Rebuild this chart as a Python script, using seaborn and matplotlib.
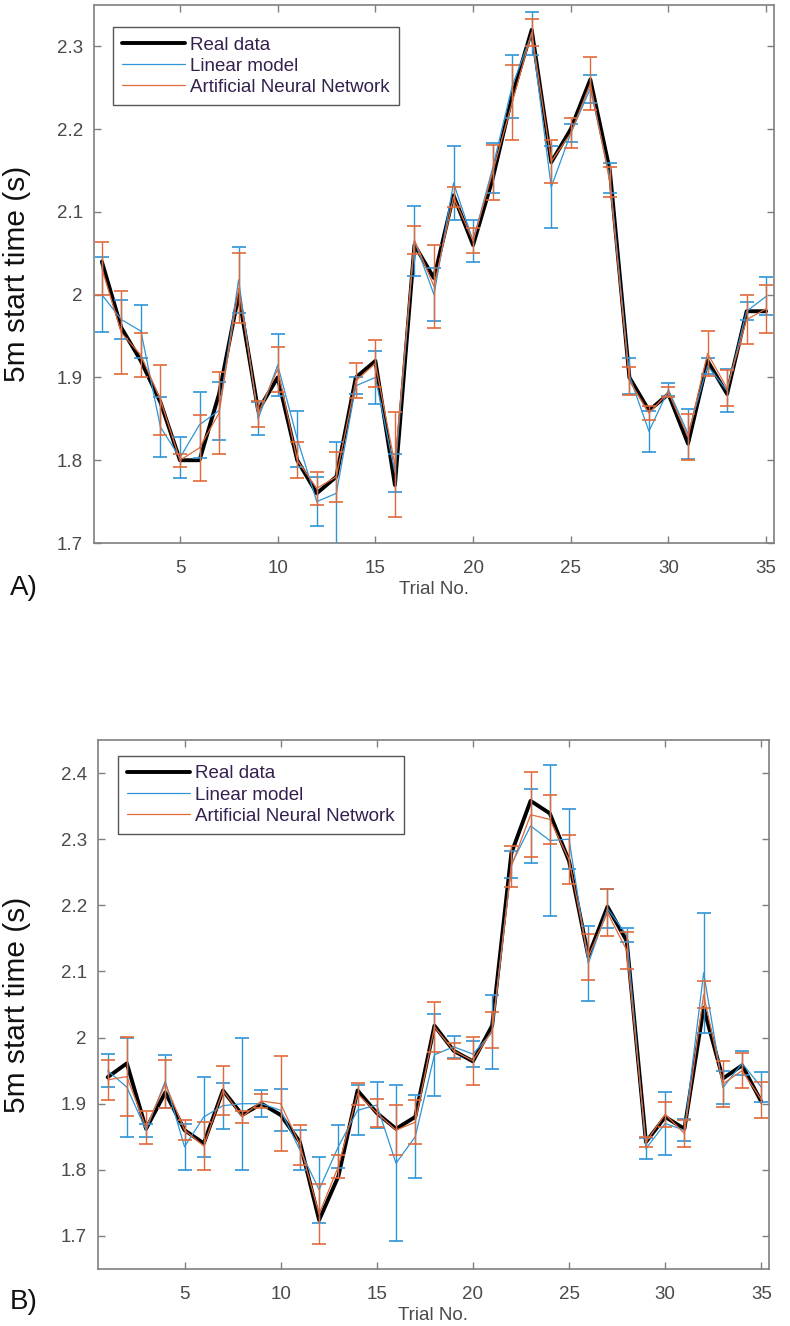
import numpy as np
import pandas as pd
import matplotlib
matplotlib.use("Agg")
import matplotlib.pyplot as plt
import seaborn as sns
from matplotlib.ticker import FuncFormatter

sns.set_theme(style="white")
plt.rcParams['font.family'] = ['Liberation Sans', 'DejaVu Sans']

trials = list(range(1, 36))

# ---- Panel A ----
a_real = [2.04, 1.96, 1.92, 1.87, 1.80, 1.80, 1.88, 2.00, 1.86, 1.90, 1.80, 1.76,
          1.78, 1.90, 1.92, 1.77, 2.06, 2.02, 2.12, 2.06, 2.14, 2.24, 2.32, 2.16,
          2.20, 2.26, 2.15, 1.90, 1.86, 1.88, 1.82, 1.92, 1.88, 1.98, 1.98]
a_lin = [2.00, 1.97, 1.956, 1.84, 1.803, 1.843, 1.86, 2.018, 1.85, 1.915, 1.826, 1.75,
         1.76, 1.89, 1.90, 1.785, 2.065, 2.00, 2.135, 2.065, 2.153, 2.252, 2.315, 2.13,
         2.195, 2.249, 2.141, 1.902, 1.835, 1.885, 1.832, 1.914, 1.884, 1.98, 1.998]
a_lin_err = [0.045, 0.024, 0.032, 0.036, 0.025, 0.04, 0.035, 0.04, 0.02, 0.037, 0.034, 0.03,
             0.062, 0.01, 0.032, 0.023, 0.042, 0.032, 0.045, 0.025, 0.03, 0.038, 0.026, 0.05,
             0.011, 0.017, 0.018, 0.022, 0.025, 0.008, 0.03, 0.01, 0.026, 0.011, 0.023]
a_ann = [2.032, 1.954, 1.927, 1.873, 1.80, 1.815, 1.857, 2.008, 1.856, 1.91, 1.80, 1.766,
         1.78, 1.896, 1.917, 1.795, 2.066, 2.01, 2.118, 2.065, 2.148, 2.232, 2.317, 2.161,
         2.195, 2.255, 2.136, 1.896, 1.857, 1.882, 1.828, 1.929, 1.887, 1.97, 1.983]
a_ann_err = [0.032, 0.05, 0.027, 0.042, 0.008, 0.04, 0.049, 0.042, 0.016, 0.027, 0.022, 0.02,
             0.03, 0.021, 0.028, 0.063, 0.017, 0.05, 0.012, 0.015, 0.033, 0.045, 0.016, 0.026,
             0.018, 0.032, 0.018, 0.017, 0.008, 0.006, 0.028, 0.027, 0.022, 0.03, 0.029]

# ---- Panel B ----
b_real = [1.94, 1.961, 1.862, 1.917, 1.86, 1.84, 1.92, 1.883, 1.90, 1.883, 1.842, 1.724,
          1.79, 1.92, 1.886, 1.862, 1.88, 2.018, 1.98, 1.964, 2.018, 2.279, 2.358, 2.339,
          2.267, 2.123, 2.198, 2.146, 1.842, 1.88, 1.862, 2.045, 1.938, 1.958, 1.903]
b_lin = [1.95, 1.925, 1.86, 1.934, 1.835, 1.88, 1.897, 1.90, 1.90, 1.89, 1.83, 1.77,
         1.835, 1.89, 1.898, 1.81, 1.85, 1.974, 1.986, 1.975, 2.008, 2.262, 2.32, 2.298,
         2.30, 2.112, 2.195, 2.155, 1.832, 1.87, 1.86, 2.098, 1.924, 1.961, 1.925]
b_lin_err = [0.025, 0.075, 0.01, 0.04, 0.035, 0.06, 0.035, 0.1, 0.02, 0.032, 0.03, 0.05,
             0.033, 0.038, 0.035, 0.118, 0.063, 0.062, 0.017, 0.02, 0.056, 0.02, 0.056, 0.114,
             0.045, 0.056, 0.029, 0.01, 0.016, 0.047, 0.017, 0.091, 0.025, 0.018, 0.023]
b_ann = [1.936, 1.941, 1.864, 1.93, 1.86, 1.836, 1.92, 1.88, 1.904, 1.90, 1.838, 1.733,
         1.805, 1.915, 1.886, 1.86, 1.872, 2.016, 1.98, 1.965, 2.011, 2.259, 2.337, 2.33,
         2.269, 2.122, 2.189, 2.132, 1.842, 1.884, 1.855, 2.065, 1.93, 1.95, 1.906]
b_ann_err = [0.03, 0.06, 0.025, 0.036, 0.015, 0.037, 0.037, 0.009, 0.01, 0.072, 0.03, 0.045,
             0.018, 0.017, 0.021, 0.038, 0.033, 0.038, 0.012, 0.036, 0.027, 0.031, 0.064, 0.037,
             0.037, 0.035, 0.036, 0.028, 0.008, 0.019, 0.02, 0.02, 0.035, 0.027, 0.027]

series_labels = ["Real data", "Linear model", "Artificial Neural Network"]
a_yticks = [1.7, 1.8, 1.9, 2.0, 2.1, 2.2, 2.3]
b_yticks = [1.7, 1.8, 1.9, 2.0, 2.1, 2.2, 2.3, 2.4]
xticks = [5, 10, 15, 20, 25, 30, 35]

BLACK = "#000000"
BLUE = "#2e95d6"
ORANGE = "#e0693a"
GRAY = "#7f7f7f"
TXT = "#4a4a4a"
LEG_TXT = "#34204f"

W, H = 790, 1326
fig = plt.figure(figsize=(W / 100, H / 100), dpi=100)


def make_axes(l, r, t, b):
    return fig.add_axes([l / W, 1 - b / H, (r - l) / W, (b - t) / H])


def draw_panel(ax, real, lin, lin_err, ann, ann_err, xlim, ylim, yticks, axw, axh,
               leg_xy, tag, tag_y):
    df = pd.DataFrame({"trial": trials, "real": real, "lin": lin, "ann": ann})
    sns.lineplot(data=df, x="trial", y="real", ax=ax, color=BLACK, lw=2.8,
                 label=series_labels[0], zorder=3)
    sns.lineplot(data=df, x="trial", y="lin", ax=ax, color=BLUE, lw=0.9,
                 label=series_labels[1], zorder=4)
    ax.errorbar(trials, lin, yerr=lin_err, fmt="none", ecolor=BLUE,
                elinewidth=1.0, capsize=4.8, capthick=1.2, zorder=4)
    sns.lineplot(data=df, x="trial", y="ann", ax=ax, color=ORANGE, lw=0.9,
                 label=series_labels[2], zorder=5)
    ax.errorbar(trials, ann, yerr=ann_err, fmt="none", ecolor=ORANGE,
                elinewidth=1.0, capsize=4.8, capthick=1.2, zorder=5)

    ax.set_xlim(*xlim)
    ax.set_ylim(*ylim)
    ax.set_xticks(xticks)
    ax.set_yticks(yticks)
    ax.yaxis.set_major_formatter(FuncFormatter(lambda v, p: f"{v:g}"))
    ax.tick_params(direction="in", length=5, width=1, colors=GRAY,
                   labelcolor=TXT, labelsize=13.5, top=True, right=True,
                   bottom=True, left=True)
    ax.tick_params(axis="x", pad=12)
    ax.tick_params(axis="y", pad=8)
    for s in ax.spines.values():
        s.set_color(GRAY)
        s.set_linewidth(1.2)

    ax.set_xlabel("Trial No.", fontsize=13.5, color=TXT)
    ax.xaxis.set_label_coords(0.5, -38 / axh)
    ax.set_ylabel("5m start time (s)", fontsize=21.5, color="#111111")
    ax.yaxis.set_label_coords(-(axw_left(ax) - 31) / axw, 0.5)

    leg = ax.legend(loc="upper left", bbox_to_anchor=leg_xy, fontsize=13.5,
                    frameon=True, fancybox=False, framealpha=1,
                    edgecolor="#555555", handlelength=3.36, handletextpad=0.27,
                    labelspacing=0.22, borderpad=0.5, borderaxespad=0)
    leg.get_frame().set_linewidth(1.0)
    for t in leg.get_texts():
        t.set_color(LEG_TXT)

    fig.text(10 / W, 1 - tag_y / H, tag, fontsize=20, color="#111111",
             ha="left", va="center")


def axw_left(ax):
    return ax.get_position().x0 * W


axA = make_axes(94, 774, 5, 543)
draw_panel(axA, a_real, a_lin, a_lin_err, a_ann, a_ann_err,
           (0.6, 35.4), (1.7, 2.35), a_yticks, 680, 538,
           ((113 - 94) / 680, (543 - 27) / 538), "A)", 588)

axB = make_axes(98, 769, 740, 1269)
draw_panel(axB, b_real, b_lin, b_lin_err, b_ann, b_ann_err,
           (0.5, 35.4), (1.65, 2.45), b_yticks, 671, 529,
           ((118 - 98) / 671, (1269 - 756) / 529), "B)", 1302)

fig.savefig("out.png", dpi=100)
